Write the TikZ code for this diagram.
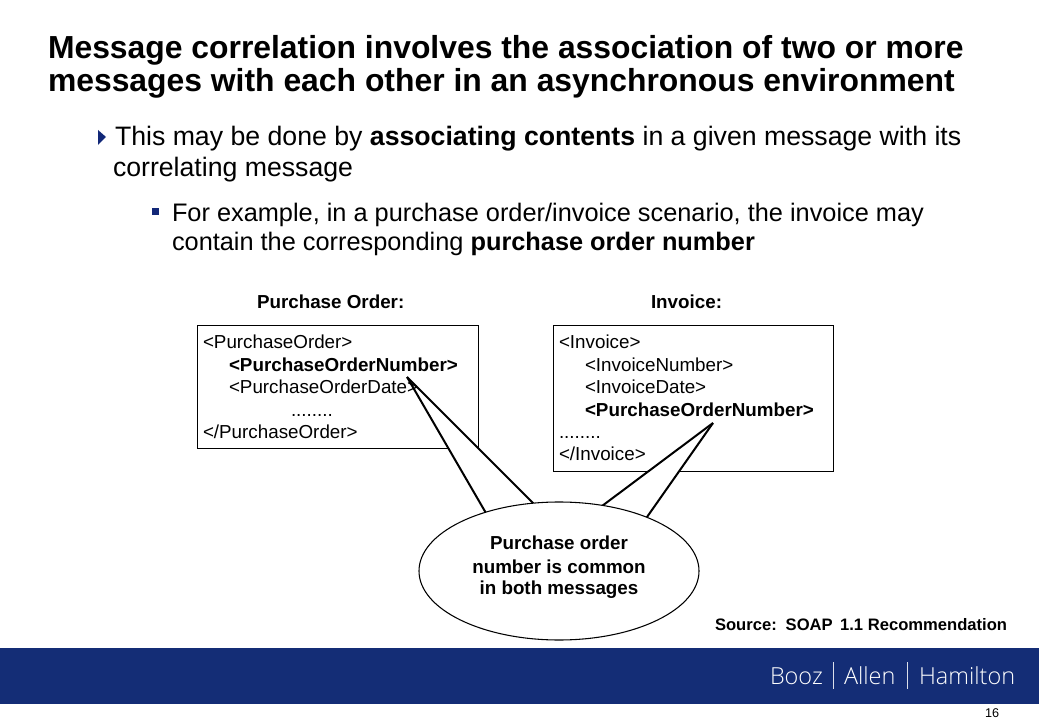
\documentclass[tikz,border=0pt]{standalone}
\usepackage{fontspec}
\setmainfont{Liberation Sans}
\newfontfamily\logofont{Open Sans Light}[NFSSFamily=ol]
\usetikzlibrary{shapes.geometric}
\definecolor{bandblue}{RGB}{20,45,118}
\definecolor{bulletblue}{RGB}{18,40,120}
\tikzset{
 txt/.style={anchor=base west,inner sep=0pt,outer sep=0pt,text=black},
 title/.style={txt,font=\fontsize{23.9}{26}\bfseries},
 body/.style={txt,font=\fontsize{20}{23}\selectfont},
 sub/.style={txt,font=\fontsize{19}{22}\selectfont},
 xml/.style={txt,font=\fontsize{14.1}{16}\selectfont},
 xmlb/.style={txt,font=\fontsize{14.1}{16}\bfseries},
 logo/.style={txt,font=\logofont\fontsize{17.6}{20}\selectfont,text=white},
 box/.style={draw=black,line width=0.75pt,fill=white,inner sep=0pt},
 call/.style={draw=black,line width=1.5pt},
}
\begin{document}
\begin{tikzpicture}[x=0.75pt,y=-0.75pt]
\useasboundingbox (0,0) rectangle (1039,720);
\fill[white] (0,0) rectangle (1039,720);
% band
\fill[bandblue] (0,648) rectangle (1039,704);
\node[logo] (lb) at (770,684) {Booz};
\node[logo] (la) at (844,684) {Allen};
\node[logo] (lh) at (919,684) {Hamilton};
\fill[white!85!bandblue] (832.6,662) rectangle (833.6,689);
\fill[white!85!bandblue] (906.6,662) rectangle (907.6,689);
\node[txt,font=\fontsize{9.5}{11}\selectfont] (pg) at (985,717) {16};
% title
\node[title] (t1) at (48,59) {Message correlation involves the association of two or more};
\node[title] (t2) at (48,92) {messages with each other in an asynchronous environment};
% bullets
\fill[bulletblue] (98,130) -- (106,137) -- (98,145) -- cycle;
\fill[bulletblue] (152,208) rectangle (158.5,215);
\node[body] (b1) at (115,146) {This may be done by \textbf{associating contents} in a given message with its};
\node[body] (b2) at (113,177) {correlating message};
\node[sub] (s1) at (172,222) {For example, in a purchase order/invoice scenario, the invoice may};
\node[sub] (s2) at (172,251) {contain the corresponding \textbf{purchase order number}};
% labels
\node[xmlb] (lpo) at (257,309) {Purchase Order:};
\node[xmlb] (lin) at (651,309) {Invoice:};
% boxes
\draw[box] (197,326) rectangle (478,448);
\draw[box] (553,326) rectangle (833,471);
% callouts
\coordinate (tipa) at (407,377);
\coordinate (tipb) at (713,423);
\coordinate (ea1) at (490,520);
\coordinate (ea2) at (545,515);
\coordinate (eb1) at (590,515);
\coordinate (eb2) at (640,527);
\fill[white] (ea1) -- (tipa) -- (ea2) -- cycle;
\fill[white] (eb1) -- (tipb) -- (eb2) -- cycle;
\draw[call] (ea1) -- (tipa);
\draw[call] (ea2) -- (tipa);
\draw[call] (eb1) -- (tipb);
\draw[call] (eb2) -- (tipb);
% ellipse
\node[draw=black,line width=0.8pt,fill=white,ellipse,minimum width=210pt,minimum height=103.5pt,inner sep=0pt] (el) at (559,571) {};
% box text
\node[xml] (p1) at (203,349) {<PurchaseOrder>};
\node[xmlb] (p2) at (229,372) {<PurchaseOrderNumber>};
\node[xml] (p3) at (229,393) {<PurchaseOrderDate>};
\node[xml] (p4) at (291,416) {........};
\node[xml] (p5) at (203,438) {</PurchaseOrder>};
\node[xml] (i1) at (559,349) {<Invoice>};
\node[xml] (i2) at (585,372) {<InvoiceNumber>};
\node[xml] (i3) at (585,393) {<InvoiceDate>};
\node[xmlb] (i4) at (585,416) {<PurchaseOrderNumber>};
\node[xml] (i5) at (559,438) {........};
\node[xml] (i6) at (559,460) {</Invoice>};
% ellipse text
\node[xmlb,anchor=base] (e1) at (559,549) {Purchase order};
\node[xmlb,anchor=base] (e2) at (559,573) {number is common};
\node[xmlb,anchor=base] (e3) at (559,594) {in both messages};
\node[txt,font=\fontsize{12.45}{15}\bfseries] (src) at (715,630) {Source:\, SOAP\, 1.1 Recommendation};
\end{tikzpicture}
\end{document}
